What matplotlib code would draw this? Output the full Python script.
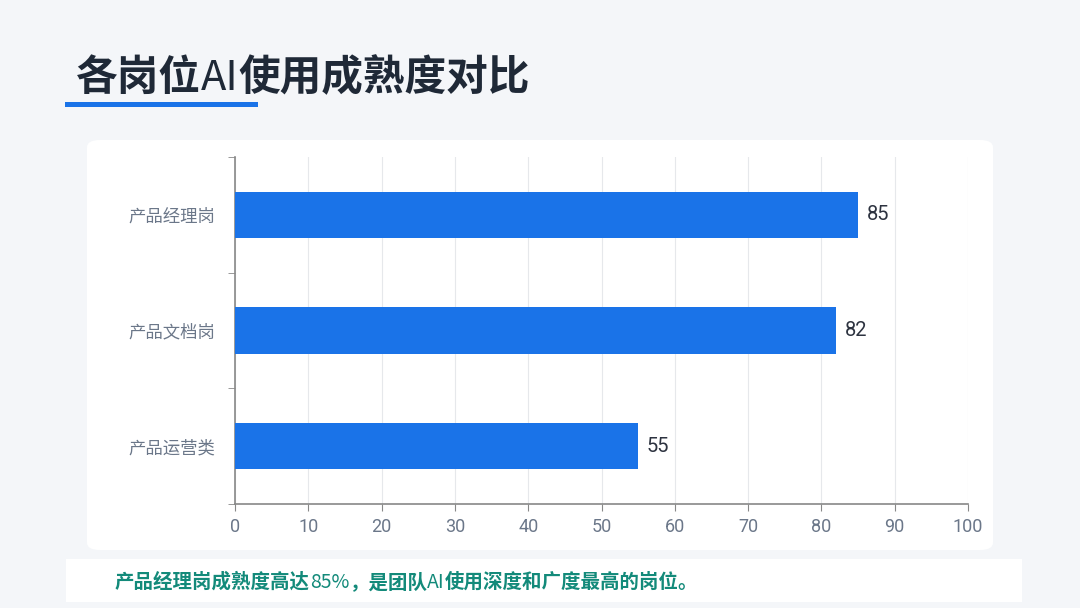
import matplotlib.pyplot as plt
import matplotlib as mpl
from matplotlib.patches import FancyBboxPatch, Rectangle

mpl.rcParams['font.family'] = ['Noto Sans CJK SC', 'DejaVu Sans']

# data
categories = ['产品经理岗', '产品文档岗', '产品运营类']
scores = [85, 82, 55]
xticks = [0, 10, 20, 30, 40, 50, 60, 70, 80, 90, 100]

# (text, bold?) pieces, latin bits are set lighter like the original
title_parts = [('各岗位', True), ('AI', False), ('使用成熟度对比', True)]
note_parts = [('产品经理岗成熟度高达', True), ('85%', False),
              ('，是团队', True), ('AI', False), ('使用深度和广度最高的岗位。', True)]

W, H = 1080, 608
fig = plt.figure(figsize=(W / 100, H / 100), dpi=100)
fig.patch.set_facecolor('#f4f6f9')
renderer = fig.canvas.get_renderer()


def write_parts(x, y, parts, size, color):
    # lay text pieces one after another, in pixels
    for txt, bold in parts:
        t = fig.text(x / W, y / H, txt, fontsize=size, color=color,
                     fontweight='bold' if bold else 'light',
                     va='center', ha='left')
        bb = t.get_window_extent(renderer)
        x += bb.width


# white card behind chart
card = FancyBboxPatch((87 / W, 58 / H), 906 / W, 410 / H,
                      boxstyle='round,pad=0,rounding_size=0.012',
                      transform=fig.transFigure, facecolor='white',
                      edgecolor='none', zorder=0)
fig.patches.append(card)

# bottom note box
note_box = Rectangle((66 / W, 6 / H), 956 / W, 43 / H, transform=fig.transFigure,
                     facecolor='white', edgecolor='none', zorder=0)
fig.patches.append(note_box)
write_parts(115, 26, note_parts, 14, '#138a7a')

# title + underline
write_parts(76, 530, title_parts, 30, '#1f2937')
fig.patches.append(Rectangle((65 / W, 501 / H), 193 / W, 5 / H,
                             transform=fig.transFigure, facecolor='#1a73e8',
                             edgecolor='none'))

ax = fig.add_axes([235 / W, 104 / H, 733 / W, 347 / H])
ax.set_zorder(5)
ax.set_facecolor('none')
ypos = list(range(len(categories)))
ax.barh(ypos, scores, height=0.4, color='#1a73e8', zorder=3)
for y, v in zip(ypos, scores):
    ax.text(v + 1.2, y, str(v), va='center', ha='left', fontsize=14.5,
            color='#2d3340', family=['Roboto', 'DejaVu Sans'])

ax.set_xlim(0, 100)
ax.set_ylim(2.5, -0.5)
ax.set_xticks(xticks)
ax.set_yticks(ypos)
ax.set_yticklabels(categories)
ax.set_yticks([-0.5, 0.5, 1.5, 2.5], minor=True)
ax.tick_params(axis='y', which='major', length=0, pad=14, labelsize=12.5,
               labelcolor='#6b7789')
ax.tick_params(axis='y', which='minor', length=5, color='#888888')
ax.tick_params(axis='x', length=5, color='#888888', labelsize=13,
               labelcolor='#6b7789', pad=5)
for lbl in ax.get_xticklabels():
    lbl.set_family(['Roboto', 'DejaVu Sans'])
ax.grid(axis='x', color='#e6e8eb', linewidth=0.8, zorder=0)
for s in ['top', 'right']:
    ax.spines[s].set_visible(False)
for s in ['left', 'bottom']:
    ax.spines[s].set_color('#888888')
    ax.spines[s].set_linewidth(1.2)

fig.savefig('out.png', dpi=100, facecolor=fig.get_facecolor())
